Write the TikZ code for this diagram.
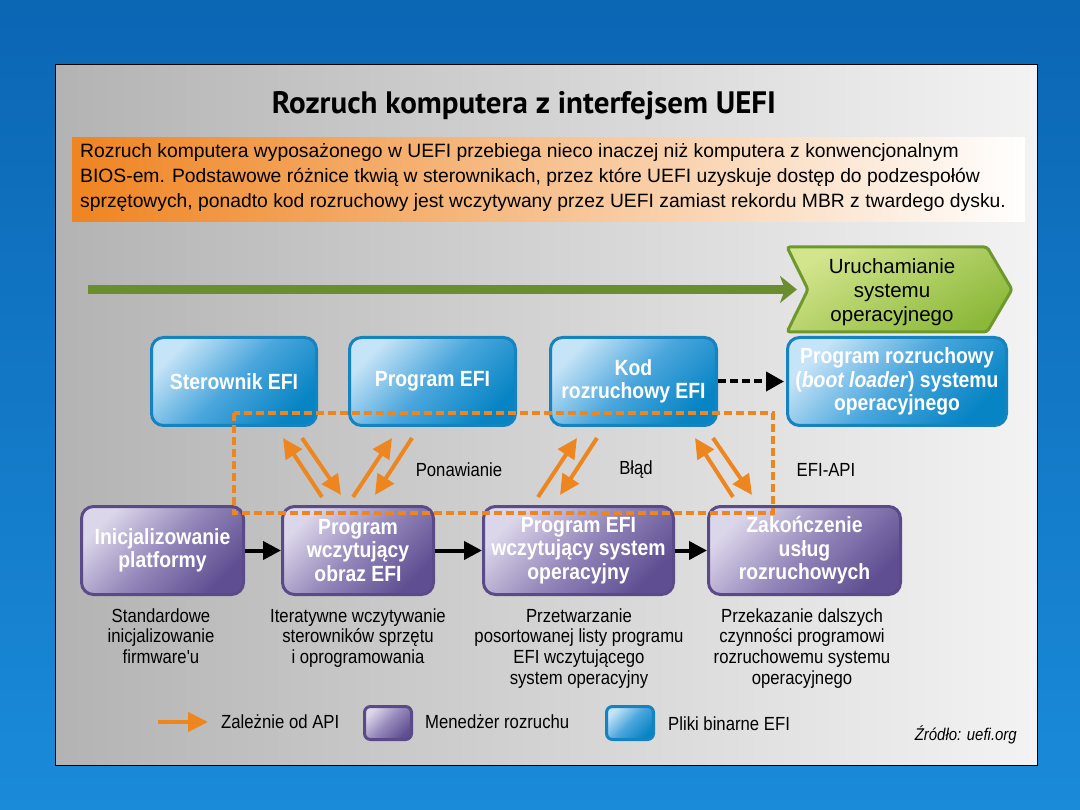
\documentclass[tikz,border=0pt]{standalone}
\usepackage{fontspec}
\setmainfont{Liberation Sans}
\newfontfamily\nar[FakeStretch=0.88]{Liberation Sans}
\newfontfamily\ttl{PT Sans}
\usetikzlibrary{arrows.meta,calc}
\definecolor{slideT}{HTML}{0B66B4}
\definecolor{slideB}{HTML}{1A8BD9}
\definecolor{panelL}{HTML}{B3B3B3}
\definecolor{panelM}{HTML}{E0E0E0}
\definecolor{panelR}{HTML}{F3F3F3}
\definecolor{orA}{HTML}{EF8421}
\definecolor{orM}{HTML}{F4AA6C}
\definecolor{grLine}{HTML}{6A8D2D}
\definecolor{grLight}{HTML}{D2E48C}
\definecolor{grDark}{HTML}{8CB93A}
\definecolor{grBorder}{HTML}{6E982E}
\definecolor{blLight}{HTML}{C6E4F7}
\definecolor{blMid}{HTML}{4AA6DC}
\definecolor{blDark}{HTML}{0784C4}
\definecolor{blBorder}{HTML}{1483C0}
\definecolor{puLight}{HTML}{DCD6EA}
\definecolor{puMid}{HTML}{9487BA}
\definecolor{puDark}{HTML}{5F4F92}
\definecolor{puBorder}{HTML}{5A4A88}
\definecolor{orArrow}{HTML}{EE8620}
\tikzset{
  boxfont/.style={font=\nar\bfseries\fontsize{22}{23.5}\selectfont},
  bluebox/.style={draw=blBorder, line width=3pt, rounded corners=12pt,
    top color=blLight, bottom color=blDark, middle color=blMid, shading angle=45,
    text=white, boxfont, align=center, inner sep=0pt},
  purplebox/.style={draw=puBorder, line width=3pt, rounded corners=12pt,
    top color=puLight, bottom color=puDark, middle color=puMid, shading angle=45,
    text=white, boxfont, align=center, inner sep=0pt},
  desc/.style={font=\nar\fontsize{19}{20.6}\selectfont, align=center, inner sep=0pt, anchor=north},
  lbl/.style={font=\nar\fontsize{19}{20.6}\selectfont, inner sep=0pt},
  orarrow/.style={draw=orArrow, line width=4pt, -{Triangle[length=20pt,width=19pt]}},
  blackarrow/.style={draw=black, line width=4pt, -{Triangle[length=18pt,width=18pt]}},
  dasharrow/.style={draw=black, line width=4pt, dash pattern=on 8pt off 4pt,
    -{Triangle[length=18pt,width=19pt]}, shorten >=2pt},
  grouprect/.style={draw=orArrow, line width=4pt, dash pattern=on 8pt off 4pt},
  chevronshape/.style={draw=grBorder, line width=3pt, rounded corners=3pt,
    top color=grLight, bottom color=grDark, shading angle=30},
}
\begin{document}
\begin{tikzpicture}[x=1pt,y=-1pt]
\useasboundingbox (0,0) rectangle (1080,810);
% slide background
\fill[top color=slideT, bottom color=slideB] (0,0) rectangle (1080,810);
% panel
\draw[black, line width=1pt, left color=panelL, middle color=panelM, right color=panelR] (55,65) rectangle (1037,765);
% title
\node[font=\ttl\bfseries\fontsize{31}{34}\selectfont, anchor=base, inner sep=0pt] (title) at (524,113.5) {Rozruch komputera z interfejsem UEFI};
% banner
\fill[left color=orA, middle color=orM, right color=white] (72,138) rectangle (1025,222);
\node[font=\fontsize{19.3}{25}\selectfont, align=left, anchor=north west, inner sep=0pt] (intro) at (80,143.3)
 {Rozruch komputera wyposażonego w UEFI przebiega nieco inaczej niż komputera z konwencjonalnym\\
  BIOS-em. Podstawowe różnice tkwią w sterownikach, przez które UEFI uzyskuje dostęp do podzespołów\\
  sprzętowych, ponadto kod rozruchowy jest wczytywany przez UEFI zamiast rekordu MBR z twardego dysku.};
% green timeline
\coordinate (gs) at (88,289.5);
\coordinate (ge) at (797,289.5);
\draw[grLine, line width=9pt, -{Stealth[length=17pt,width=27pt,inset=5pt]}] (gs) -- (ge);
\draw[chevronshape] (787,247) -- (987,247) -- (1012,289.5) -- (987,332) -- (787,332) -- (808,289.5) -- cycle;
\node[font=\fontsize{20.5}{24}\selectfont, align=center, inner sep=0pt] (chev) at (892,292) {Uruchamianie\\systemu\\operacyjnego};
% blue boxes
\node[bluebox, minimum width=165pt, minimum height=88pt] (B1) at (234,381.5) {Sterownik EFI};
\node[bluebox, minimum width=166pt, minimum height=88pt] (B2) at (432.5,381.5) {Program EFI};
\node[bluebox, minimum width=166pt, minimum height=88pt] (B3) at (633.5,381.5) {Kod\\rozruchowy EFI};
\node[bluebox, minimum width=219pt, minimum height=88pt] (B4) at (897,381.5) {Program rozruchowy\\(\textit{boot loader}) systemu\\operacyjnego};
\draw[dasharrow] (B3.east) -- (B4.west);
% purple boxes
\node[purplebox, minimum width=162pt, minimum height=88pt] (P1) at (162.5,550.5) {Inicjalizowanie\\platformy};
\node[purplebox, minimum width=151pt, minimum height=88pt] (P2) at (358,550.5) {Program\\wczytujący\\obraz EFI};
\node[purplebox, minimum width=190pt, minimum height=88pt] (P3) at (578.5,550.5) {Program EFI\\wczytujący system\\operacyjny};
\node[purplebox, minimum width=192pt, minimum height=88pt] (P4) at (804.5,550.5) {Zakończenie\\usług\\rozruchowych};
\draw[blackarrow] (P1.east) -- (P2.west);
\draw[blackarrow] (P2.east) -- (P3.west);
\draw[blackarrow] (P3.east) -- (P4.west);
% dashed group
\draw[grouprect] (234,413) rectangle (773,513);
% orange arrows
\coordinate (a1s) at (322,497); \coordinate (a1e) at (283,438);
\coordinate (a2s) at (302,438); \coordinate (a2e) at (341,495);
\coordinate (a3s) at (353,497); \coordinate (a3e) at (392,438);
\coordinate (a4s) at (412,438); \coordinate (a4e) at (375,495);
\coordinate (a5s) at (538,497); \coordinate (a5e) at (577,438);
\coordinate (a6s) at (597,438); \coordinate (a6e) at (560,495);
\coordinate (a7s) at (733,497); \coordinate (a7e) at (695,438);
\coordinate (a8s) at (713,438); \coordinate (a8e) at (752,495);
\foreach \i in {1,...,8} {\draw[orarrow] (a\i s) -- (a\i e);}
\node[lbl] (pon) at (459,470) {Ponawianie};
\node[lbl] (blad) at (636,470) {Błąd};
\node[lbl] (api) at (826,470) {EFI-API};
% descriptions
\node[desc] (d1) at (161,608.3) {Standardowe\\inicjalizowanie\\firmware'u};
\node[desc] (d2) at (358,608.3) {Iteratywne wczytywanie\\sterowników sprzętu\\i oprogramowania};
\node[desc] (d3) at (579,608.3) {Przetwarzanie\\posortowanej listy programu\\EFI wczytującego\\system operacyjny};
\node[desc] (d4) at (802,608.3) {Przekazanie dalszych\\czynności programowi\\rozruchowemu systemu\\operacyjnego};
% legend
\coordinate (ls) at (158,722); \coordinate (le) at (208,722);
\draw[orarrow] (ls) -- (le);
\node[lbl, anchor=west] (lg1) at (221,722) {Zależnie od API};
\node[purplebox, rounded corners=6pt, minimum width=47pt, minimum height=33pt] (L1) at (388,723) {};
\node[lbl, anchor=west] (lg2) at (425,722) {Menedżer rozruchu};
\node[bluebox, rounded corners=6pt, minimum width=47pt, minimum height=33pt] (L2) at (630,723) {};
\node[lbl, anchor=west] (lg3) at (668,724) {Pliki binarne EFI};
\node[font=\nar\itshape\fontsize{17}{19}\selectfont, anchor=base east, inner sep=0pt] (src) at (1017,740) {Źródło: uefi.org};
\end{tikzpicture}
\end{document}
